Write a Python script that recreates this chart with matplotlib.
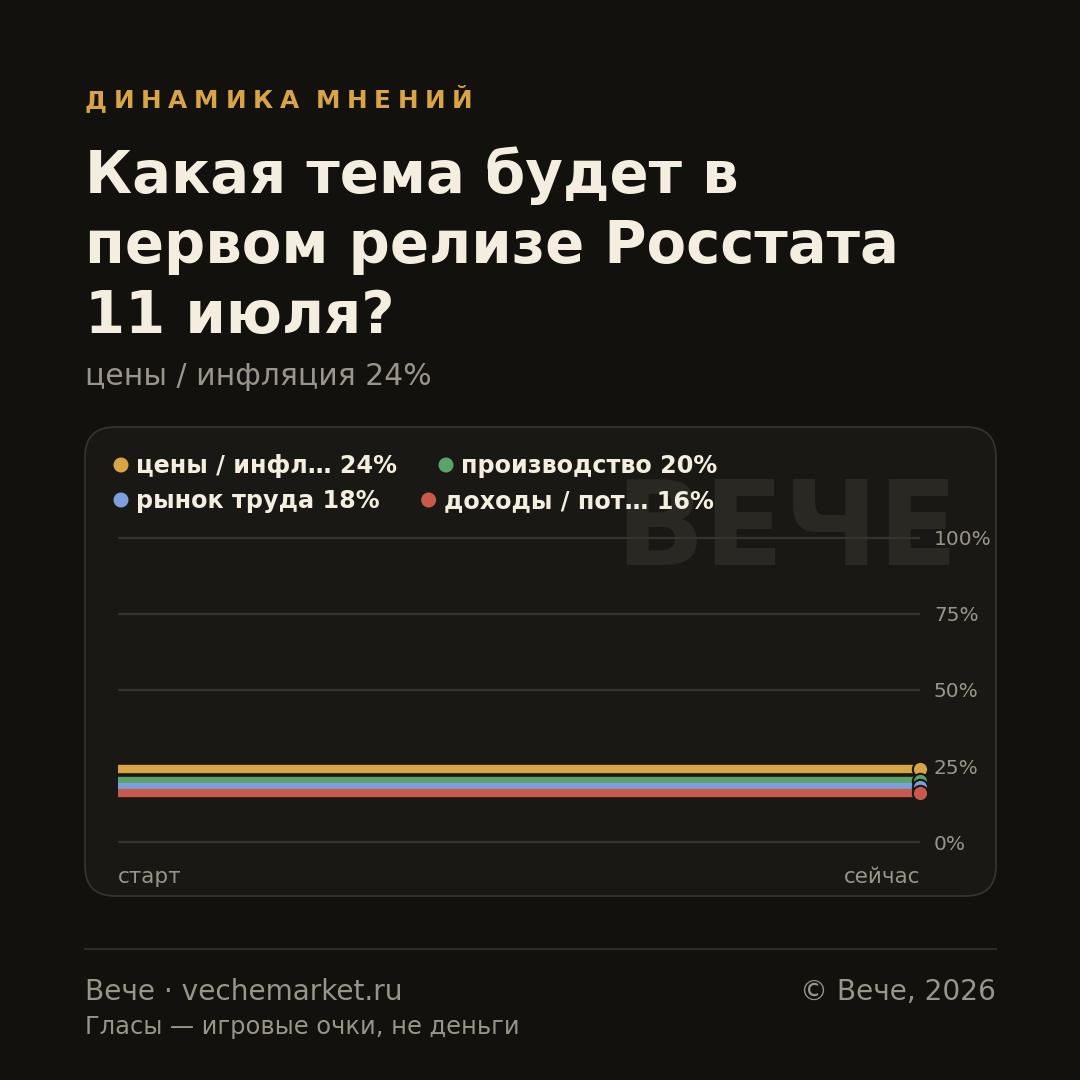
import matplotlib
matplotlib.use("Agg")
import matplotlib.pyplot as plt
from matplotlib.patches import FancyBboxPatch, Circle

plt.rcParams['font.family'] = ['DejaVu Sans']

# data
series_names = ["цены / инфл…", "производство", "рынок труда", "доходы / пот…"]
series_values = [24, 20, 18, 16]
series_colors = ["#d9a444", "#5aa469", "#7b9fdc", "#c8594b"]
x_labels = ["старт", "сейчас"]
y_ticks = [0, 25, 50, 75, 100]

kicker = "ДИНАМИКА МНЕНИЙ"
title_lines = ["Какая тема будет в", "первом релизе Росстата", "11 июля?"]
subtitle = "цены / инфляция 24%"
footer_left = "Вече · vechemarket.ru"
footer_right = "© Вече, 2026"
footer_note = "Гласы — игровые очки, не деньги"

BG = "#12110e"
CARD = "#1a1814"
TEXT = "#f3eee0"
MUTED = "#9a958a"

W = 1080


def fx(px):
    return px / W


def fy(py):
    return 1 - py / W


fig = plt.figure(figsize=(10.8, 10.8), dpi=100, facecolor=BG)
renderer = fig.canvas.get_renderer()

# kicker with letter spacing
x = 85
for ch in kicker:
    if ch == " ":
        x += 10
        continue
    t = fig.text(fx(x), fy(108), ch, color="#d9a444", fontsize=17.8, fontweight="bold",
                 va="baseline", ha="left")
    w = t.get_window_extent(renderer).width
    x += w + 6.7

for i, line in enumerate(title_lines):
    fig.text(fx(85), fy(193 + 70 * i), line, color=TEXT, fontsize=41.5, fontweight="bold",
             va="baseline", ha="left")

fig.text(fx(85), fy(385), subtitle, color=MUTED, fontsize=21.5, va="baseline", ha="left")

# card
card = FancyBboxPatch((fx(85), fy(896)), fx(996 - 85), fx(896 - 427),
                      boxstyle="round,pad=0,rounding_size=%f" % fx(30),
                      transform=fig.transFigure, facecolor=CARD, edgecolor="#36332d",
                      linewidth=1.3, zorder=-2)
fig.patches.append(card)

# watermark
fig.text(fx(958), fy(565), "ВЕЧЕ", color="#2a2823", fontsize=84, fontweight="bold",
         ha="right", va="baseline", zorder=-1)

# legend
rows = [[0, 1], [2, 3]]
for r, row in enumerate(rows):
    yb = 473 + 35 * r
    dx = 121
    for idx in row:
        fig.patches.append(Circle((fx(dx), fy(yb - 8)), fx(7.5), transform=fig.transFigure,
                                  facecolor=series_colors[idx], edgecolor="none", zorder=2))
        t = fig.text(fx(dx + 15), fy(yb), "%s %d%%" % (series_names[idx], series_values[idx]),
                     color=TEXT, fontsize=17.2, fontweight="bold", va="baseline", ha="left")
        dx = dx + 15 + t.get_window_extent(renderer).width + 49

# chart axes: 0..100 spans y=842..538 px, padded so edge gridlines aren't clipped
ppu = (842 - 538) / 100
ax = fig.add_axes([fx(118), fy(842 + 3 * ppu), fx(920 - 118), fx(106 * ppu)])
ax.set_facecolor("none")
ax.set_zorder(1)
ax.set_xlim(0, 1)
ax.set_ylim(-3, 103)
for s in ax.spines.values():
    s.set_visible(False)
ax.set_xticks([])
ax.yaxis.tick_right()
ax.set_yticks(y_ticks)
ax.set_yticklabels(["%d%%" % v for v in y_ticks])
ax.tick_params(axis="y", length=0, pad=10, labelsize=14.5, labelcolor=MUTED)
ax.grid(axis="y", color="#37342e", linewidth=1.6)
ax.set_axisbelow(True)

for i, v in enumerate(series_values):
    ax.plot([0, 1], [v, v], color=series_colors[i], linewidth=6, solid_capstyle="butt",
            zorder=3 + i, clip_on=False)
for i, v in enumerate(series_values):
    ax.plot([1], [v], marker="o", markersize=11, color=series_colors[i],
            markeredgecolor=CARD, markeredgewidth=1.5, zorder=10 + i, clip_on=False)

fig.text(fx(118), fy(883), x_labels[0], color=MUTED, fontsize=15.5, ha="left", va="baseline")
fig.text(fx(920), fy(883), x_labels[1], color=MUTED, fontsize=15.5, ha="right", va="baseline")

# footer
fig.add_artist(plt.Line2D([fx(85), fx(996)], [fy(949), fy(949)], transform=fig.transFigure,
                          color="#2e2b26", linewidth=1.5))
fig.text(fx(85), fy(1000), footer_left, color=MUTED, fontsize=20.2, va="baseline", ha="left")
fig.text(fx(996), fy(1000), footer_right, color=MUTED, fontsize=20.2, va="baseline", ha="right")
fig.text(fx(85), fy(1034), footer_note, color=MUTED, fontsize=17.4, va="baseline", ha="left")

fig.savefig("out.png", dpi=100, facecolor=BG)
